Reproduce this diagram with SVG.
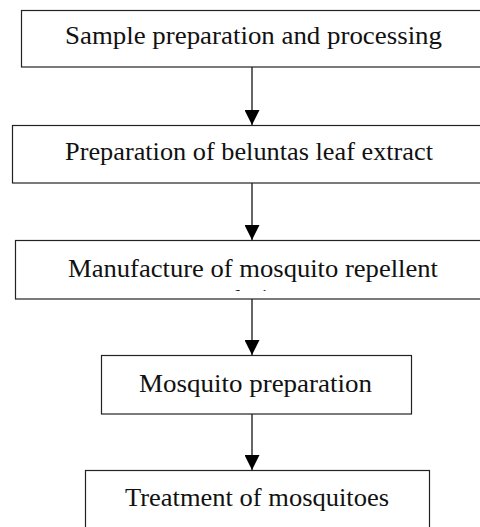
<svg xmlns="http://www.w3.org/2000/svg" width="480" height="527" viewBox="0 0 480 527">
<defs>
<style>
.box{fill:#fff;stroke:#222;stroke-width:1.2}
.t{font-family:"Liberation Serif","DejaVu Serif",serif;font-size:25px;fill:#111;text-anchor:middle}
.c{stroke:#000;stroke-width:1.2;fill:none}
</style>
<marker id="ah" markerUnits="userSpaceOnUse" markerWidth="16" markerHeight="15" refX="16" refY="8" orient="auto" viewBox="0 0 16 16">
<path d="M0,0 L16,8 L0,16 Z" fill="#000"/>
</marker>
<clipPath id="clip3"><rect x="15" y="240" width="470" height="51"/></clipPath>
</defs>
<rect width="480" height="527" fill="#fff"/>
<g id="connectors">
<line class="c" x1="252" y1="67" x2="252" y2="125" marker-end="url(#ah)"/>
<line class="c" x1="252" y1="183" x2="252" y2="240" marker-end="url(#ah)"/>
<line class="c" x1="252" y1="299" x2="252" y2="355" marker-end="url(#ah)"/>
<line class="c" x1="252" y1="414" x2="252" y2="470" marker-end="url(#ah)"/>
</g>
<g id="n1">
<rect class="box" x="21.5" y="10.5" width="470" height="56.5"/>
<text class="t" x="253.5" y="44" textLength="377" lengthAdjust="spacingAndGlyphs">Sample preparation and processing</text>
</g>
<g id="n2">
<rect class="box" x="12.5" y="125.5" width="480" height="57.5"/>
<text class="t" x="249" y="160" textLength="368" lengthAdjust="spacingAndGlyphs">Preparation of beluntas leaf extract</text>
</g>
<g id="n3">
<rect class="box" x="15.5" y="240.5" width="480" height="58.5"/>
<text class="t" x="253" y="277" textLength="370" lengthAdjust="spacingAndGlyphs">Manufacture of mosquito repellent</text>
<text class="t" x="253" y="307" clip-path="url(#clip3)">solution</text>
</g>
<g id="n4">
<rect class="box" x="101.5" y="355.5" width="310" height="58.5"/>
<text class="t" x="255.5" y="392" textLength="233" lengthAdjust="spacingAndGlyphs">Mosquito preparation</text>
</g>
<g id="n5">
<rect class="box" x="85.5" y="470.5" width="344" height="70"/>
<text class="t" x="257" y="506" textLength="264" lengthAdjust="spacingAndGlyphs">Treatment of mosquitoes</text>
</g>
</svg>
